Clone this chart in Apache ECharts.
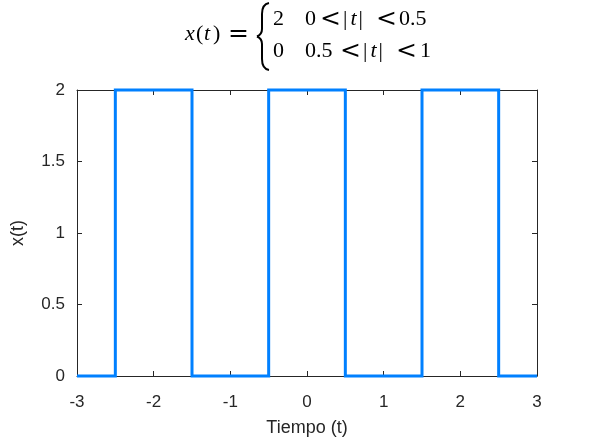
<!DOCTYPE html>
<html><head><meta charset="utf-8">
<script src="https://cdn.jsdelivr.net/npm/echarts@6/dist/echarts.min.js"></script>
<style>html,body{margin:0;padding:0;background:#fff}#c{width:593px;height:440px}</style>
</head><body><div id="c"></div>
<script>
const tValues = [-3, -2.5, -2.5, -1.5, -1.5, -0.5, -0.5, 0.5, 0.5, 1.5, 1.5, 2.5, 2.5, 3];
const xValues = [0, 0, 2, 2, 0, 0, 2, 2, 0, 0, 2, 2, 0, 0];
const xTicks = [-3, -2, -1, 0, 1, 2, 3];
const yTicks = [0, 0.5, 1, 1.5, 2];
const xLabel = 'Tiempo (t)';
const yLabel = 'x(t)';

const chart = echarts.init(document.getElementById('c'), null, {renderer: 'canvas'});
const axisColor = '#262626';
const tickFont = {color: '#262626', fontSize: 17, fontFamily: 'Liberation Sans, Arial, sans-serif'};
const serif = 'Liberation Serif, Times New Roman, serif';
const relFont = 'DejaVu Serif, serif';
const mathRich = {
  n: {fontFamily: serif, fontSize: 22, color: '#000'},
  i: {fontFamily: serif, fontSize: 22, fontStyle: 'italic', color: '#000'},
  ip: {fontFamily: serif, fontSize: 22, fontStyle: 'italic', color: '#000', padding: [0, 2, 0, 3]},
  r: {fontFamily: relFont, fontSize: 25, color: '#000'}
};
const braceStyle = {stroke: '#000', lineWidth: 2, fill: null};
function bz(x1, y1, a, b, c, d, x2, y2) {
  return {type: 'bezierCurve', silent: true, shape: {x1: x1, y1: y1, cpx1: a, cpy1: b, cpx2: c, cpy2: d, x2: x2, y2: y2}, style: braceStyle};
}
function ln(x1, y1, x2, y2) {
  return {type: 'line', silent: true, shape: {x1: x1, y1: y1, x2: x2, y2: y2}, style: braceStyle};
}
function tok(x, y, text) {
  return {type: 'text', silent: true, x: x, y: y, style: {text: text, rich: mathRich, align: 'left', verticalAlign: 'middle'}};
}
const r0 = 34, r1 = 19, r2 = 51;
const option = {
  animation: false,
  backgroundColor: '#fff',
  grid: {left: 77, right: 56, top: 90, bottom: 64, containLabel: false, outerBoundsMode: 'none'},
  xAxis: [{
    type: 'value', min: -3, max: 3, interval: 1, position: 'bottom',
    name: xLabel, nameLocation: 'middle', nameGap: 43,
    nameTextStyle: {color: '#262626', fontSize: 18, fontFamily: 'Liberation Sans, Arial, sans-serif'},
    axisLine: {show: true, onZero: false, lineStyle: {color: axisColor, width: 1}},
    axisTick: {show: true, inside: true, length: 5, lineStyle: {color: axisColor}},
    axisLabel: Object.assign({margin: 18, formatter: v => xTicks.includes(v) ? String(v) : ''}, tickFont),
    splitLine: {show: false}
  }, {
    type: 'value', min: -3, max: 3, interval: 1, position: 'top',
    axisLine: {show: true, onZero: false, lineStyle: {color: axisColor, width: 1}},
    axisTick: {show: true, inside: true, length: 5, lineStyle: {color: axisColor}},
    axisLabel: {show: false}, splitLine: {show: false}
  }],
  yAxis: [{
    type: 'value', min: 0, max: 2, interval: 0.5, position: 'left',
    name: yLabel, nameLocation: 'middle', nameGap: 50, nameRotate: 90,
    nameTextStyle: {color: '#262626', fontSize: 18, fontFamily: 'Liberation Sans, Arial, sans-serif'},
    axisLine: {show: true, onZero: false, lineStyle: {color: axisColor, width: 1}},
    axisTick: {show: true, inside: true, length: 5, lineStyle: {color: axisColor}},
    axisLabel: Object.assign({margin: 12, formatter: v => yTicks.includes(v) ? String(v) : ''}, tickFont),
    splitLine: {show: false}
  }, {
    type: 'value', min: 0, max: 2, interval: 0.5, position: 'right',
    axisLine: {show: true, onZero: false, lineStyle: {color: axisColor, width: 1}},
    axisTick: {show: true, inside: true, length: 5, lineStyle: {color: axisColor}},
    axisLabel: {show: false}, splitLine: {show: false}
  }],
  series: [{
    type: 'line', xAxisIndex: 0, yAxisIndex: 0,
    data: tValues.map((t, k) => [t, xValues[k]]),
    showSymbol: false, symbol: 'none',
    lineStyle: {color: '#0080FF', width: 3, join: 'miter'},
    clip: false
  }],
  graphic: [
    tok(185, r0, '{i|x}'),
    tok(196, r0, '{n|(}'),
    tok(204, r0, '{i|t}'),
    tok(213, r0, '{n|)}'),
    tok(228, r0, '{r|=}'),
    bz(269, 3, 263.5, 4, 262, 8, 262, 14),
    ln(262, 14, 262, 29),
    bz(262, 29, 262, 33, 260.5, 35, 257, 36.5),
    bz(257, 36.5, 260.5, 38, 262, 40, 262, 44),
    ln(262, 44, 262, 59),
    bz(262, 59, 262, 65, 263.5, 69, 269, 70),
    tok(273, r1, '{n|2}'),
    tok(305, r1, '{n|0}'),
    tok(320, r1, '{r|<}'),
    tok(343, r1, '{n||}{ip|t}{n||}'),
    tok(376, r1, '{r|<}'),
    tok(399, r1, '{n|0.5}'),
    tok(273, r2, '{n|0}'),
    tok(305, r2, '{n|0.5}'),
    tok(340, r2, '{r|<}'),
    tok(363, r2, '{n||}{ip|t}{n||}'),
    tok(396, r2, '{r|<}'),
    tok(420, r2, '{n|1}')
  ]
};
chart.setOption(option);
</script></body></html>
